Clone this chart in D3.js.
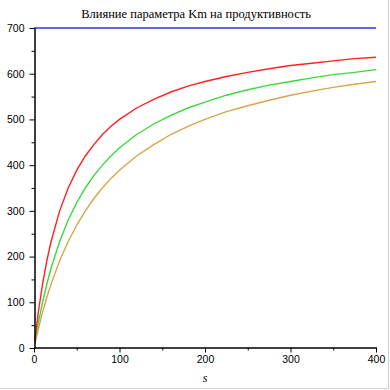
<!DOCTYPE html>
<html><head><meta charset="utf-8">
<script src="https://cdn.jsdelivr.net/npm/d3@7"></script>
<style>body{margin:0;background:#fff}svg{display:block}</style>
</head><body>
<svg id="c" width="390" height="390"></svg>
<script>
const title = "Влияние параметра Km на продуктивность";
const xLabel = "s";
const sValues = [1,5,10,15,20,30,40,50,60,70,80,90,100,120,140,160,180,200,225,250,275,300,325,350,375,400];
const redValues = [17,78,140,191,233,300,350,389,420,445,467,485,500,525,544,560,573,583,594,603,611,618,623,628,633,636];
const greenValues = [11,54,100,140,175,233,280,318,350,377,400,420,438,467,490,509,525,538,553,565,575,583,591,598,603,609];
const orangeValues = [9,41,78,111,140,191,233,269,300,327,350,371,389,420,445,467,485,500,517,530,542,553,562,570,577,583];
const vmaxS = [0,400];
const vmaxValues = [700,700];
const xTicks = [0,100,200,300,400];
const yTicks = [0,100,200,300,400,500,600,700];

const svg = d3.select("#c");
const x = d3.scaleLinear().domain([0,400]).range([34,376]);
const y = d3.scaleLinear().domain([0,700]).range([348,28]);

// frame
svg.append("line").attr("x1",388.5).attr("x2",388.5).attr("y1",0).attr("y2",389).attr("stroke","#d0d0d0");
svg.append("line").attr("x1",0).attr("x2",389).attr("y1",388.5).attr("y2",388.5).attr("stroke","#d0d0d0");

svg.append("text").attr("x",196).attr("y",18).attr("text-anchor","middle")
  .attr("font-family","Liberation Serif, Times New Roman, serif").attr("font-size",12.5).text(title);

const line = d3.line().x(d=>x(d[0])).y(d=>y(d[1]));
const series = [
  {vals: vmaxValues, s: vmaxS, color:"#3333ee"},
  {vals: orangeValues, s: sValues, color:"#d8a54c"},
  {vals: greenValues, s: sValues, color:"#3ed83e"},
  {vals: redValues, s: sValues, color:"#ff2020"}
];
series.forEach(se=>{
  svg.append("path").datum(se.s.map((v,i)=>[v,se.vals[i]])).attr("d",line)
    .attr("fill","none").attr("stroke",se.color).attr("stroke-width",1.4);
});

// axes
const yAxis = d3.axisLeft(y).tickValues(yTicks).tickSize(5).tickSizeOuter(0).tickPadding(5);
svg.append("g").attr("transform","translate(34.5,0)").call(yAxis);
const yMinor = d3.axisLeft(y).tickValues(d3.range(50,700,100)).tickSize(3).tickFormat("").tickSizeOuter(0);
svg.append("g").attr("transform","translate(34.5,0)").call(yMinor);
const xAxis = d3.axisBottom(x).tickValues(xTicks).tickSize(5).tickSizeOuter(0).tickPadding(3);
svg.append("g").attr("transform","translate(0,347.5)").call(xAxis);
const xMinor = d3.axisBottom(x).tickValues(d3.range(50,400,100)).tickSize(3).tickFormat("").tickSizeOuter(0);
svg.append("g").attr("transform","translate(0,347.5)").call(xMinor);
svg.selectAll(".domain, .tick line").attr("stroke","#000");
svg.selectAll(".tick text").attr("font-family","Liberation Sans, Arial, sans-serif").attr("font-size",10.5).attr("fill","#000");

svg.append("text").attr("x",x(200)).attr("y",382).attr("text-anchor","middle")
  .attr("font-family","Liberation Serif, Times New Roman, serif").attr("font-style","italic").attr("font-size",12).text(xLabel);
</script>
</body></html>
